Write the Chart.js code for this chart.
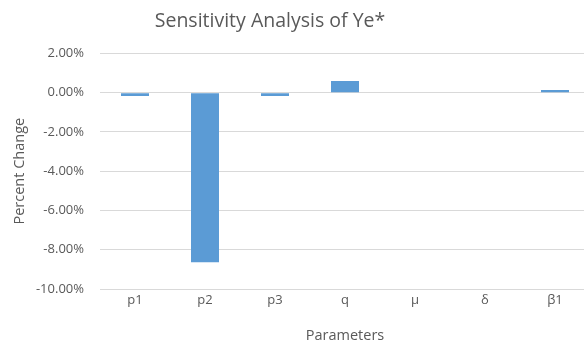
<!DOCTYPE html>
<html lang="en">
<head>
    <meta charset="UTF-8">
    <title>Sensitivity Analysis of Ye*</title>
    <script src="https://cdn.jsdelivr.net/npm/chart.js"></script>
    <style>
        body {
            margin: 0;
            background: white;
            overflow: hidden;
        }
        #chart-container {
            width: 592px;
            height: 345px;
        }
    </style>
</head>
<body>
    <div id="chart-container">
        <canvas id="chart"></canvas>
    </div>

    <script>
        const parameters = ['p1', 'p2', 'p3', 'q', 'μ', 'δ', 'β1'];
        const percentChange = [-0.17, -8.64, -0.17, 0.6, 0, 0, 0.13];
        const yMin = -10;
        const yMax = 2;
        const yStep = 2;

        const textColor = '#595959';
        const gridColor = '#d9d9d9';
        const fontFamily = '"Open Sans", Arial, sans-serif';

        // nudge the title left, the original chart has it off-centre
        const titleShift = {
            id: 'titleShift',
            afterLayout(chart) {
                if (chart.titleBlock) {
                    chart.titleBlock.right -= 50;
                }
            }
        };

        const ctx = document.getElementById('chart').getContext('2d');
        const chart = new Chart(ctx, {
            type: 'bar',
            data: {
                labels: parameters,
                datasets: [{
                    label: 'Percent Change',
                    data: percentChange,
                    backgroundColor: '#5b9bd5',
                    barPercentage: 0.4,
                    categoryPercentage: 1.0
                }]
            },
            options: {
                responsive: true,
                maintainAspectRatio: false,
                animation: false,
                layout: {
                    padding: { left: 0, right: 2, top: 0, bottom: 0 }
                },
                plugins: {
                    legend: { display: false },
                    tooltip: { enabled: false },
                    title: {
                        display: true,
                        text: 'Sensitivity Analysis of Ye*',
                        color: textColor,
                        font: { family: fontFamily, size: 19.5, weight: 'normal' },
                        padding: { top: 10, bottom: 20 }
                    }
                },
                scales: {
                    x: {
                        grid: { display: false, drawTicks: false },
                        border: { display: false },
                        ticks: {
                            color: textColor,
                            font: { family: fontFamily, size: 13 },
                            padding: 3
                        },
                        title: {
                            display: true,
                            text: 'Parameters',
                            color: textColor,
                            font: { family: fontFamily, size: 14.5 },
                            padding: { top: 17, bottom: 0 }
                        }
                    },
                    y: {
                        min: yMin,
                        max: yMax,
                        grid: {
                            color: gridColor,
                            drawTicks: false
                        },
                        border: { display: false },
                        ticks: {
                            stepSize: yStep,
                            color: textColor,
                            font: { family: fontFamily, size: 13 },
                            padding: 16,
                            callback: value => value.toFixed(2) + '%'
                        },
                        title: {
                            display: true,
                            text: 'Percent Change',
                            color: textColor,
                            font: { family: fontFamily, size: 14.5 },
                            padding: { top: 11, bottom: 4 }
                        },
                        afterFit(scale) {
                            scale.width = 100;
                        }
                    }
                }
            },
            plugins: [titleShift]
        });
    </script>
</body>
</html>
